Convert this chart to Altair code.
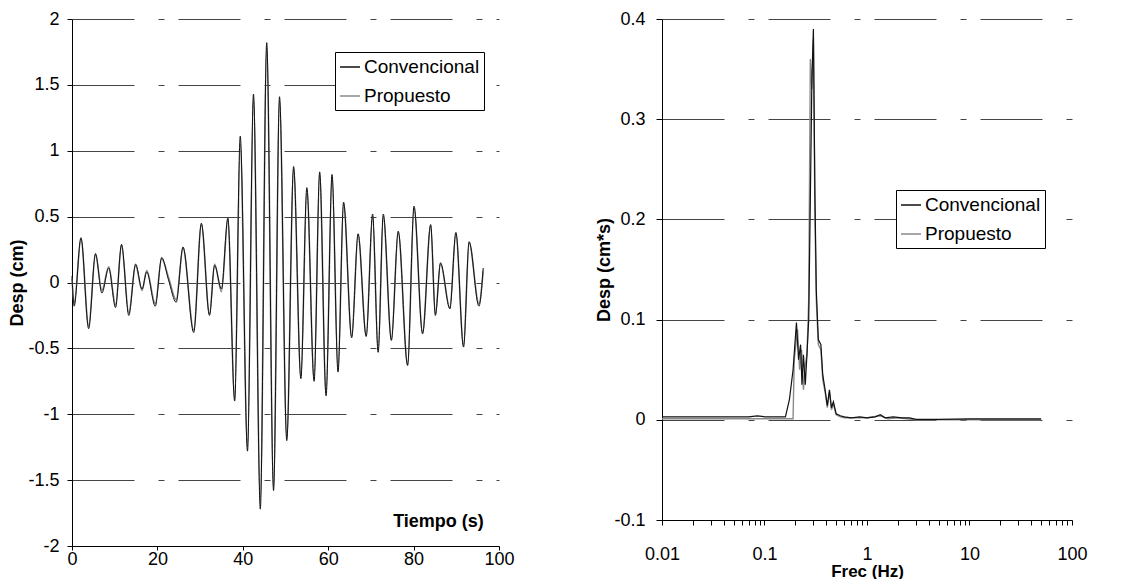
import altair as alt
import pandas as pd

# ---------------- data ----------------
# Left panel: displacement time history (extrema), Tiempo (s) vs Desp (cm)
t_time = [0, 0.5, 2.1, 3.9, 5.5, 7.0, 8.6, 10.2, 11.6, 13.3,
          14.9, 16.4, 17.5, 19.5, 21.0, 22.6, 24.4, 26.0, 28.5, 30.3,
          32.2, 33.4, 35.0, 36.5, 38.1, 39.4, 41.1, 42.5, 44.1, 45.6,
          47.2, 48.6, 50.3, 51.9, 53.6, 55.0, 56.7, 58.0, 59.5, 60.9,
          62.3, 63.6, 65.5, 67.0, 68.9, 70.4, 71.7, 72.9, 74.8, 76.4,
          78.6, 80.1, 82.1, 84.0, 85.1, 86.3, 88.5, 89.9, 91.7, 93.0,
          95.3, 96.3]
desp_conv = [0.05, -0.18, 0.34, -0.35, 0.22, -0.08, 0.11, -0.19, 0.29, -0.25,
             0.14, -0.05, 0.08, -0.18, 0.19, 0.02, -0.15, 0.27, -0.38, 0.45,
             -0.25, 0.13, -0.05, 0.49, -0.90, 1.11, -1.28, 1.43, -1.72, 1.82,
             -1.58, 1.41, -1.20, 0.88, -0.73, 0.72, -0.75, 0.84, -0.86, 0.82,
             -0.68, 0.61, -0.42, 0.37, -0.41, 0.52, -0.53, 0.52, -0.44, 0.39,
             -0.63, 0.58, -0.39, 0.44, -0.25, 0.15, -0.20, 0.38, -0.49, 0.31,
             -0.18, 0.11]
desp_prop = [0.03, -0.16, 0.33, -0.33, 0.21, -0.06, 0.12, -0.17, 0.28, -0.23,
             0.13, -0.06, 0.09, -0.16, 0.18, 0.04, -0.13, 0.26, -0.36, 0.44,
             -0.24, 0.14, -0.07, 0.47, -0.88, 1.05, -1.25, 1.40, -1.65, 1.78,
             -1.55, 1.38, -1.18, 0.86, -0.72, 0.70, -0.73, 0.82, -0.84, 0.80,
             -0.66, 0.60, -0.41, 0.36, -0.40, 0.50, -0.52, 0.50, -0.43, 0.38,
             -0.62, 0.56, -0.38, 0.43, -0.24, 0.14, -0.19, 0.37, -0.48, 0.30,
             -0.16, 0.09]

# Right panel: Fourier spectrum, Frec (Hz) vs Desp (cm*s)
freq_conv = [0.01, 0.03, 0.07, 0.085, 0.1, 0.16, 0.175, 0.19, 0.205, 0.215,
             0.225, 0.232, 0.24, 0.25, 0.26, 0.27, 0.28, 0.29, 0.3, 0.31,
             0.32, 0.335, 0.355, 0.37, 0.39, 0.41, 0.43, 0.45, 0.47, 0.5,
             0.55, 0.6, 0.7, 0.85, 1.0, 1.2, 1.35, 1.5, 1.8, 2.2,
             2.6, 3.0, 5.0, 10, 20, 50]
spec_conv = [0.003, 0.003, 0.003, 0.004, 0.003, 0.003, 0.02, 0.05, 0.097, 0.06,
             0.075, 0.035, 0.065, 0.035, 0.067, 0.10, 0.22, 0.34, 0.39, 0.23,
             0.13, 0.08, 0.075, 0.045, 0.03, 0.014, 0.03, 0.012, 0.018, 0.006,
             0.004, 0.003, 0.002, 0.003, 0.002, 0.003, 0.005, 0.002, 0.003, 0.002,
             0.002, 0.0005, 0.0005, 0.001, 0.001, 0.001]
freq_prop = [0.01, 0.05, 0.1, 0.15, 0.19, 0.195, 0.21, 0.22, 0.23, 0.24,
             0.25, 0.26, 0.27, 0.28, 0.29, 0.3, 0.31, 0.32, 0.335, 0.355,
             0.37, 0.39, 0.41, 0.43, 0.45, 0.47, 0.5, 0.55, 0.6, 0.8,
             1.0, 1.35, 1.6, 2.0, 3.0, 10, 50]
spec_prop = [0.001, 0.001, 0.001, 0.001, 0.001, 0.06, 0.09, 0.05, 0.07, 0.03,
             0.055, 0.065, 0.12, 0.36, 0.33, 0.38, 0.21, 0.12, 0.075, 0.07,
             0.04, 0.028, 0.012, 0.028, 0.01, 0.016, 0.005, 0.003, 0.002, 0.002,
             0.002, 0.004, 0.001, 0.002, 0.0, 0.0, 0.0]

SERIES = ["Convencional", "Propuesto"]
COLORS = ["#111111", "#8a8a8a"]

left_y_ticks = [-2, -1.5, -1, -0.5, 0, 0.5, 1, 1.5, 2]
left_x_ticks = [0, 20, 40, 60, 80, 100]
right_y_ticks = [-0.1, 0, 0.1, 0.2, 0.3, 0.4]
right_x_ticks = [round(m * d, 4) for d in [0.01, 0.1, 1, 10] for m in range(1, 10)] + [100]

FONT = "Liberation Sans"
GRID_DASH = [62, 24, 6, 14]

# ---------------- tables ----------------
df_t = pd.DataFrame({
    "t": t_time + t_time,
    "v": desp_conv + desp_prop,
    "serie": [SERIES[0]] * len(t_time) + [SERIES[1]] * len(t_time),
})
df_f = pd.DataFrame({
    "f": freq_conv + freq_prop,
    "v": spec_conv + spec_prop,
    "serie": [SERIES[0]] * len(freq_conv) + [SERIES[1]] * len(freq_prop),
})


def make_legend(x, y):
    return alt.Legend(
        title=None, orient="none", legendX=x, legendY=y,
        symbolType="stroke", symbolSize=400, symbolStrokeWidth=1.5,
        labelFontSize=19, labelFont=FONT, labelColor="black",
        strokeColor="black", fillColor="white", padding=4,
        rowPadding=8, labelLimit=300, labelOffset=3,
    )


# ---------------- left panel ----------------
xL = alt.X("t:Q", scale=alt.Scale(domain=[0, 100], nice=False),
           axis=alt.Axis(values=left_x_ticks, labelExpr="'' + datum.value",
                         labelFlush=False,
                         title="Tiempo (s)", titleX=366, titleY=-34,
                         titleFontWeight="bold", titleFontSize=18, titleAlign="center",
                         grid=False, tickSize=4, labelPadding=0))
yL = alt.Y("v:Q", scale=alt.Scale(domain=[-2, 2], nice=False),
           axis=alt.Axis(values=left_y_ticks, labelExpr="'' + datum.value",
                         title="Desp (cm)", titleFontWeight="bold",
                         titlePadding=1, grid=True, tickSize=5, labelPadding=8))
cL = alt.Color("serie:N", scale=alt.Scale(domain=SERIES, range=COLORS),
               legend=make_legend(263, 33))

baseL = alt.Chart(df_t).encode(x=xL, y=yL, color=cL)
left = alt.layer(
    baseL.transform_filter("datum.serie == 'Propuesto'").mark_line(strokeWidth=1.6, interpolate="monotone"),
    baseL.transform_filter("datum.serie == 'Convencional'").mark_line(strokeWidth=1.0, interpolate="monotone"),
).properties(width=427, height=527)

# ---------------- right panel ----------------
xR = alt.X("f:Q", scale=alt.Scale(type="log", domain=[0.01, 100], nice=False),
           axis=alt.Axis(values=right_x_ticks,
                         labelExpr="indexof([0.01, 0.1, 1, 10, 100], datum.value) >= 0 ? '' + datum.value : ''",
                         labelOverlap=False, labelFlush=False,
                         title="Frec (Hz)", titleFontWeight="bold", titleFontSize=17,
                         titlePadding=0, grid=False, tickSize=5, labelPadding=20))
yR = alt.Y("v:Q", scale=alt.Scale(domain=[-0.1, 0.4], nice=False),
           axis=alt.Axis(values=right_y_ticks, labelExpr="'' + datum.value",
                         title="Desp (cm*s)", titleFontWeight="bold",
                         titlePadding=0, grid=True, tickSize=6, labelPadding=11))
cR = alt.Color("serie:N", scale=alt.Scale(domain=SERIES, range=COLORS),
               legend=make_legend(234, 171))

baseR = alt.Chart(df_f).encode(x=xR, y=yR, color=cR)
right = alt.layer(
    baseR.transform_filter("datum.serie == 'Propuesto'").mark_line(strokeWidth=1.4),
    baseR.transform_filter("datum.serie == 'Convencional'").mark_line(strokeWidth=1.2),
).properties(width=410, height=501)

chart = (
    alt.hconcat(left, right, spacing=163, bounds="flush")
    .resolve_legend(color="independent")
    .resolve_scale(color="independent")
    .configure(padding={"left": 0, "top": 2, "right": 0, "bottom": 0}, font=FONT)
    .configure_view(stroke=None)
    .configure_axis(
        domainColor="black", domainWidth=1, tickColor="black", tickWidth=1,
        labelColor="black", titleColor="black", labelFontSize=18, titleFontSize=18,
        labelFont=FONT, titleFont=FONT, labelFlush=False,
        gridColor="#444444", gridDash=GRID_DASH, gridWidth=1, gridOpacity=1,
    )
)

chart.save("out.html", embed_options={"renderer": "svg", "actions": False})
